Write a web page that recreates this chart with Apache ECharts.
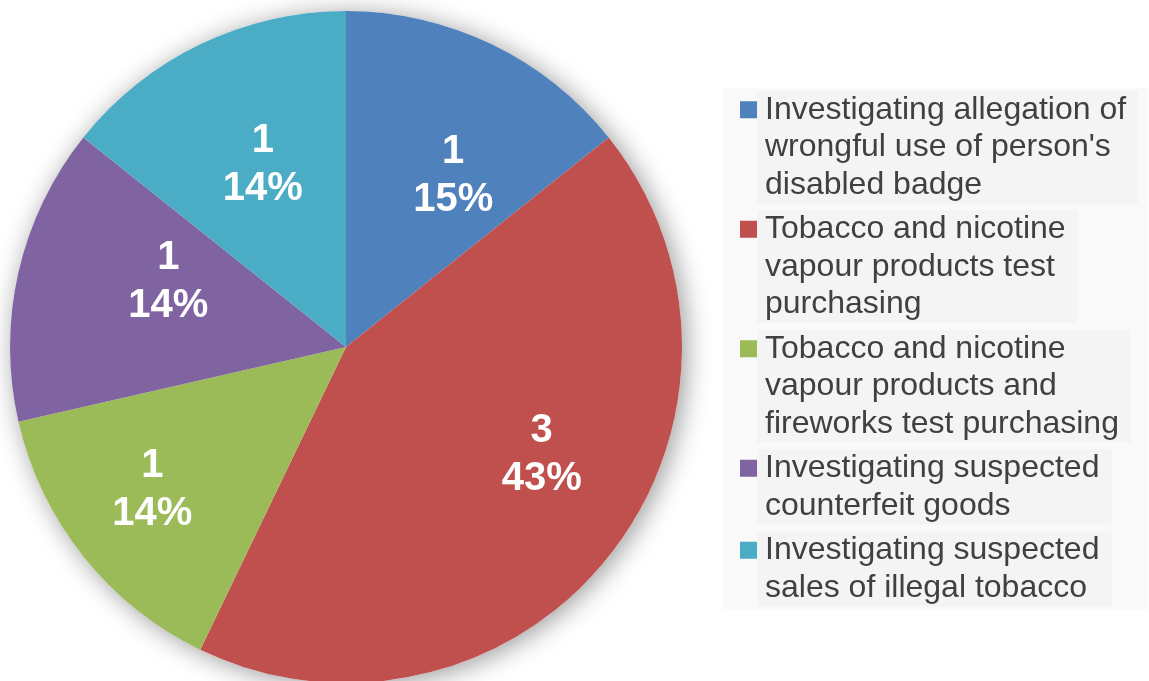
<!DOCTYPE html>
<html>
<head>
<meta charset="utf-8">
<script src="https://cdn.jsdelivr.net/npm/echarts@6/dist/echarts.min.js"></script>
<style>
html,body{margin:0;padding:0;background:#fff;}
#chart{width:1149px;height:681px;}
</style>
</head>
<body>
<div id="chart"></div>
<script>
// ---- data ----
const categories = [
  "Investigating allegation of\nwrongful use of person's\ndisabled badge",
  "Tobacco and nicotine\nvapour products test\npurchasing",
  "Tobacco and nicotine\nvapour products and\nfireworks test purchasing",
  "Investigating suspected\ncounterfeit goods",
  "Investigating suspected\nsales of illegal tobacco"
];
const values = [1, 3, 1, 1, 1];

// ---- styles ----
const colors = ['#4F81BD', '#C0504D', '#9BBB59', '#8064A2', '#4BACC6'];
const labelNudge = [[33, -17], [62, 1], [-60, 36], [-11, -27], [-9, -28]];
const FONT = '"Liberation Sans", Arial, sans-serif';
const LH = 37.5;

const ctx = document.createElement('canvas').getContext('2d');
ctx.font = '32px "Liberation Sans"';
const boxW = categories.map(c => Math.max(...c.split('\n').map(l => ctx.measureText(l).width)) + 12);

const rich = {
  s: { width: 17, height: 17, lineHeight: LH }
};
categories.forEach((c, i) => {
  rich['m' + i] = { width: 17, height: 17, lineHeight: LH, backgroundColor: colors[i] };
  rich['t' + i] = {
    fontSize: 32, fontFamily: FONT, color: '#404040', lineHeight: LH, height: LH,
    backgroundColor: '#f4f4f4', padding: [0, 0, 0, 8], width: boxW[i]
  };
});

const chart = echarts.init(document.getElementById('chart'), null, { renderer: 'canvas' });
chart.setOption({
  animation: false,
  backgroundColor: '#ffffff',
  legend: {
    orient: 'vertical',
    left: 723,
    top: 88,
    padding: [3, 10, 3, 12],
    backgroundColor: '#f9f9f9',
    icon: 'none',
    itemWidth: 0,
    itemHeight: 17,
    itemGap: 7,
    data: categories,
    selectedMode: false,
    formatter: function (name) {
      const idx = categories.indexOf(name);
      return name.split('\n').map((l, i) => (i === 0 ? '{m' + idx + '|}' : '{s|}') + '{t' + idx + '|' + l + '}').join('\n');
    },
    textStyle: { rich: rich, fontSize: 32, fontFamily: FONT, color: '#404040', lineHeight: LH }
  },
  series: [
    {
      type: 'pie',
      silent: true,
      center: [346, 347],
      radius: 336,
      z: 1,
      label: { show: false },
      labelLine: { show: false },
      data: [{ value: 1, name: 'shadow', itemStyle: { color: '#ffffff', shadowBlur: 26, shadowOffsetX: 4, shadowOffsetY: 3, shadowColor: 'rgba(0,0,0,0.4)' } }]
    },
    {
      type: 'pie',
      center: [346, 347],
      radius: 336,
      startAngle: 90,
      clockwise: true,
      z: 2,
      percentPrecision: 0,
      itemStyle: { borderWidth: 0 },
      label: {
        show: true,
        position: 'inside',
        formatter: '{c}\n{d}%',
        color: '#ffffff',
        fontSize: 40,
        fontWeight: 'bold',
        fontFamily: FONT,
        lineHeight: 48,
        align: 'center'
      },
      labelLine: { show: false },
      emphasis: { disabled: true },
      data: categories.map((c, i) => ({
        name: c,
        value: values[i],
        itemStyle: { color: colors[i] },
        label: { offset: labelNudge[i] }
      }))
    }
  ]
});
</script>
</body>
</html>
